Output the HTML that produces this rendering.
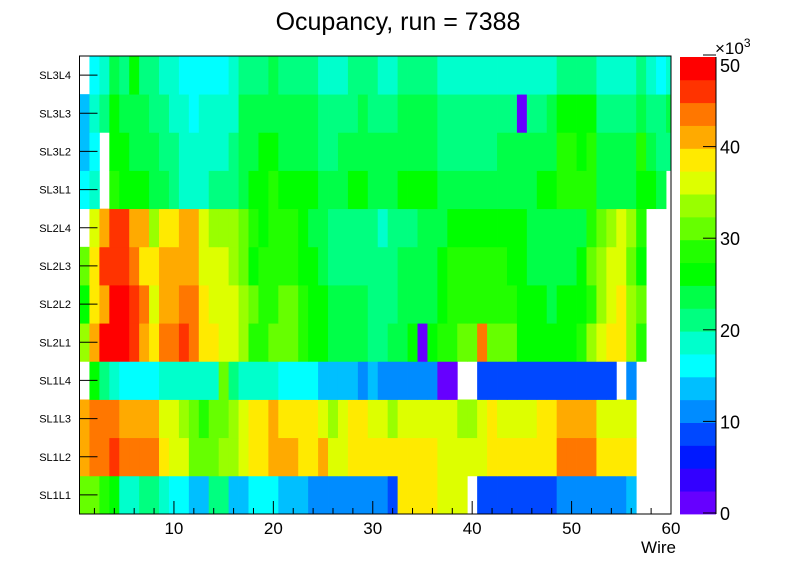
<!DOCTYPE html>
<html><head><meta charset="utf-8"><style>
body{margin:0;background:#fff;width:796px;height:572px;overflow:hidden;font-family:"Liberation Sans",sans-serif}
svg text{font-family:"Liberation Sans",sans-serif}
</style></head><body>
<svg id="c" width="796" height="572" viewBox="0 0 796 572" xmlns="http://www.w3.org/2000/svg">
<text x="398" y="30" font-size="25" text-anchor="middle">Ocupancy, run = 7388</text>
<g id="cells"></g>
<g id="axes"></g>
<g id="cbar"></g>
</svg>
<script>
// layers bottom-to-top
const layers = ["SL1L1","SL1L2","SL1L3","SL1L4","SL2L1","SL2L2","SL2L3","SL2L4","SL3L1","SL3L2","SL3L3","SL3L4"];
const wires = Array.from({length:60},(_,i)=>i+1);
const xTicks = [10,20,30,40,50,60];
const zTicks = [0,10,20,30,40,50];
// occupancy in units of 2500-count bands (band index; -1 = empty), converted to counts below
const bSL1L1=[12,12,11,10,7,7,8,8,7,6,6,5,5,8,8,5,5,6,6,6,5,5,5,4,4,4,4,4,4,4,4,3,15,15,15,15,14,14,14,-1,3,3,3,3,3,3,3,3,4,4,4,4,4,4,4,5,-1,-1,-1,-1];
const bSL1L2=[16,17,17,18,17,17,17,17,15,14,14,12,12,12,13,13,14,15,15,16,16,16,15,15,16,14,14,15,15,15,15,15,15,15,15,15,14,14,14,14,14,15,15,15,15,15,15,15,17,17,17,17,15,15,15,15,-1,-1,-1,-1];
const bSL1L3=[16,17,17,17,16,16,16,16,14,14,13,12,11,12,12,13,14,15,15,16,15,15,15,15,14,13,14,15,15,14,14,13,14,14,14,14,14,14,13,13,14,15,14,14,14,14,15,15,16,16,16,16,14,14,14,14,-1,-1,-1,-1];
const bSL1L4=[-1,10,8,7,6,6,6,6,7,7,7,7,7,7,12,8,7,7,7,7,6,6,6,6,5,5,5,5,4,5,4,4,4,4,4,4,0,0,-1,-1,3,3,3,3,3,3,3,3,3,3,3,3,3,3,-1,4,-1,-1,-1,-1];
const bSL2L1=[13,16,19,19,19,18,16,15,17,17,18,17,15,15,14,14,13,11,11,12,12,12,11,10,10,9,9,9,9,8,8,9,9,10,0,10,11,11,12,12,17,12,12,12,10,10,10,10,10,10,11,13,14,15,15,13,11,-1,-1,-1];
const bSL2L2=[10,15,16,19,19,18,17,14,16,16,17,17,15,14,14,14,13,12,11,11,12,12,11,10,10,9,9,9,9,8,8,8,9,9,9,9,10,11,11,11,11,11,11,11,10,10,10,9,10,10,10,11,13,14,15,13,12,-1,-1,-1];
const bSL2L3=[12,15,18,18,18,17,15,15,16,16,16,16,14,14,14,13,12,10,11,11,11,11,10,10,9,8,8,8,8,8,8,8,9,9,9,9,10,11,11,11,11,11,11,10,10,9,9,9,9,9,10,12,13,14,14,12,10,-1,-1,-1];
const bSL2L4=[-1,14,16,18,18,16,16,13,15,15,16,16,14,13,13,13,12,11,10,11,11,11,10,9,9,8,8,8,8,8,7,8,8,8,9,9,9,10,10,10,10,10,10,10,10,9,9,9,9,9,9,11,12,13,14,13,11,-1,-1,-1];
const bSL3L1=[6,7,-1,11,10,10,10,9,9,8,7,7,7,8,8,8,9,10,10,11,10,10,10,10,9,9,9,10,10,9,9,9,10,10,10,10,9,9,9,9,9,9,9,9,9,9,10,10,11,11,11,11,9,9,9,9,10,10,9,-1];
const bSL3L2=[5,6,-1,10,10,9,9,9,8,8,7,7,7,7,7,8,9,9,10,10,9,9,9,9,8,8,9,9,9,9,9,9,9,9,9,9,8,8,8,8,8,8,9,9,9,9,9,9,11,11,10,11,9,9,9,9,11,9,8,8];
const bSL3L3=[5,7,8,10,9,9,9,8,8,7,7,6,7,7,7,7,9,9,9,9,9,9,9,9,8,8,8,8,9,8,8,8,9,9,9,9,8,8,8,8,8,8,8,8,0,8,8,9,10,10,10,10,8,8,8,8,9,8,8,9];
const bSL3L4=[-1,6,7,9,8,10,8,8,7,7,6,6,6,6,6,7,8,8,8,9,8,8,8,8,7,7,7,8,8,8,7,7,8,8,8,8,7,7,7,7,7,7,7,7,7,7,7,7,8,8,8,8,7,7,7,7,8,7,6,7];
const bands=[bSL1L1,bSL1L2,bSL1L3,bSL1L4,bSL2L1,bSL2L2,bSL2L3,bSL2L4,bSL3L1,bSL3L2,bSL3L3,bSL3L4];
const counts = bands.map(r=>r.map(b=>b<0?null:(b+0.5)*2500));

const palette=["#6600ff","#3300ff","#0019ff","#0048ff","#008cff","#00bfff","#00ffff","#00ffcc","#00ff80","#00ff48","#00ff00","#22ff00","#66ff00","#99ff00","#ddff00","#ffea00","#ffaa00","#ff7700","#ff3300","#ff0000"];
const NS="http://www.w3.org/2000/svg";
const X0=79.5,X1=671,XMIN=0.5,XMAX=60,Y0=56,Y1=514;
function sx(v){return X0+(v-XMIN)*(X1-X0)/(XMAX-XMIN);}
function sy(i){return Y1-i*(Y1-Y0)/layers.length;}
function sz(v){return 513-v*(513-55)/50000;}
function col(v){let b=Math.floor(v/2500);if(b>19)b=19;if(b<0)b=0;return palette[b];}
function mk(t,a,p){const e=document.createElementNS(NS,t);for(const k in a)e.setAttribute(k,a[k]);p.appendChild(e);return e;}
const cells=document.getElementById('cells'),axes=document.getElementById('axes'),cb=document.getElementById('cbar');
counts.forEach((row,li)=>{row.forEach((v,wi)=>{if(v===null)return;
 const x0=sx(wires[wi]-0.5),x1=Math.min(X1,sx(wires[wi]+0.5));
 const r=mk('rect',{x:x0,y:sy(li+1),width:x1-x0+0.4,height:sy(li)-sy(li+1)+0.4,fill:col(v)},cells);
 
 
});});
const fr=mk('rect',{x:X0,y:Y0,width:X1-X0,height:Y1-Y0,fill:'none',stroke:'#000','stroke-width':1},axes);


for(let w=2;w<=60;w+=2){const big=w%10===0;mk('line',{x1:sx(w),x2:sx(w),y1:Y1,y2:Y1-(big?13:6),stroke:'#000'},axes);}
xTicks.forEach(t=>{const e=mk('text',{x:sx(t),y:534,'font-size':17,'text-anchor':'middle'},axes);e.textContent=t;
 
 });
const xt=mk('text',{x:676,y:553,'font-size':17,'text-anchor':'end'},axes);xt.textContent='Wire';


layers.forEach((l,i)=>{const yc=(sy(i)+sy(i+1))/2;
 mk('line',{x1:X0,x2:X0+18,y1:yc,y2:yc,stroke:'#000'},axes);
 const e=mk('text',{x:71,y:yc+4,'font-size':11,'text-anchor':'end'},axes);e.textContent=l;
 
 });
const CB0=680,CB1=716,CT=57,CBB=514;
for(let i=0;i<20;i++){const h=(CBB-CT)/20;const r=mk('rect',{x:CB0,y:CBB-(i+1)*h,width:CB1-CB0,height:h+0.4,fill:palette[i]},cb);
 
 }
mk('line',{x1:CB1,x2:CB1,y1:CT,y2:CBB,stroke:'#000'},cb);
zTicks.forEach(t=>{const y=sz(t*1000);mk('line',{x1:CB1-13,x2:CB1,y1:y,y2:y,stroke:'#000'},cb);
 const ly=Math.max(y+7,72);
 const e=mk('text',{x:720,y:ly,'font-size':18},cb);e.textContent=t;
 
 });
const ex=mk('text',{x:715,y:54,'font-size':17},cb);ex.innerHTML='×10<tspan dy="-7" font-size="12">3</tspan>';


</script>
</body></html>
